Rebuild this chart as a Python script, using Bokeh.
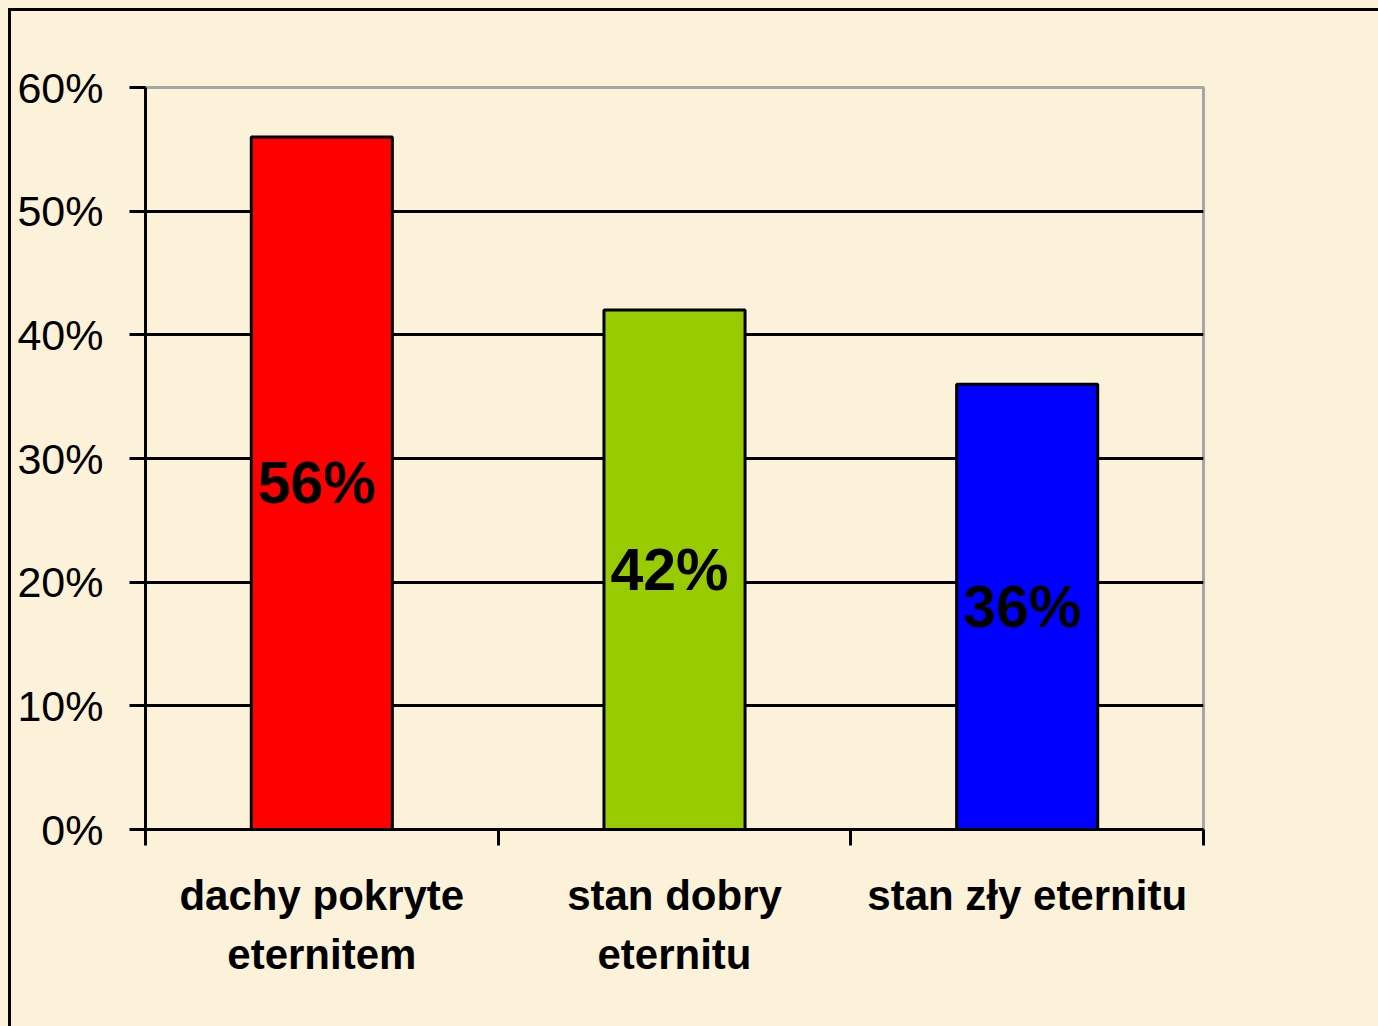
from bokeh.plotting import figure
from bokeh.models import (Range1d, LinearAxis, FixedTicker,
                          PrintfTickFormatter, ColumnDataSource)
from bokeh.core.properties import value
from bokeh.embed import file_html
from bokeh.resources import INLINE

categories = ["dachy pokryte\neternitem", "stan dobry\neternitu", "stan zły eternitu"]
values = [56, 42, 36]
value_labels = ["56%", "42%", "36%"]
bar_colors = ["#FF0000", "#99CC00", "#0000FF"]
y_ticks = [0, 10, 20, 30, 40, 50, 60]
grid_ticks = [10, 20, 30, 40, 50]

BG = "#FCF1D9"
FONT = "Liberation Sans"

n = len(categories)
centers = [i + 0.5 for i in range(n)]
bounds = list(range(n + 1))

p = figure(x_range=Range1d(0, n), y_range=Range1d(0, 60),
           frame_width=1058, frame_height=742,
           min_border_left=145, min_border_top=87, min_border_right=175, min_border_bottom=197,
           output_backend="svg", toolbar_location=None, x_axis_location=None)

p.background_fill_color = BG
p.border_fill_color = None
p.styles = {"background-color": BG,
            "box-shadow": "inset 8px 8px 0 0 " + BG + ", inset 11px 11px 0 0 #000000"}
p.outline_line_color = "#A6A6A6"
p.outline_line_width = 3

# y axis
ya = p.yaxis[0]
ya.ticker = FixedTicker(ticks=y_ticks)
ya.formatter = PrintfTickFormatter(format="%d%%")
ya.axis_line_color = "black"
ya.axis_line_width = 3
ya.major_tick_line_color = "black"
ya.major_tick_line_width = 3
ya.major_tick_in = 0
ya.major_tick_out = 16
ya.minor_tick_line_color = None
ya.major_label_standoff = 26
ya.major_label_text_font = FONT
ya.major_label_text_font_size = "43px"
ya.major_label_text_color = "black"

# grid
p.xgrid.visible = False
p.ygrid.ticker = FixedTicker(ticks=grid_ticks)
p.ygrid.grid_line_color = "black"
p.ygrid.grid_line_width = 3

# x axes: ticks at category boundaries, labels at centres
tick_axis = LinearAxis(ticker=FixedTicker(ticks=bounds),
                       axis_line_color="black", axis_line_width=3,
                       major_tick_line_color="black", major_tick_line_width=3,
                       major_tick_in=0, major_tick_out=16,
                       minor_tick_line_color=None,
                       major_label_text_font_size="1px", major_label_text_alpha=0,
                       major_label_standoff=0)
label_axis = LinearAxis(ticker=FixedTicker(ticks=centers),
                        major_label_overrides=dict(zip(centers, categories)),
                        axis_line_color=None, major_tick_line_color=None,
                        minor_tick_line_color=None,
                        major_label_text_font=FONT,
                        major_label_text_font_style="bold",
                        major_label_text_font_size="42px",
                        major_label_text_color="black",
                        major_label_text_line_height=1.27,
                        major_label_standoff=20)
p.add_layout(tick_axis, "below")
p.add_layout(label_axis, "below")

src = ColumnDataSource(dict(x=centers, val=values, color=bar_colors,
                            label=value_labels, mid=[v / 2 for v in values]))

p.vbar(x="x", top="val", width=0.4, fill_color="color", line_color="black",
       line_width=3, source=src)

p.text(x="x", y="mid", text="label", source=src, text_font=value(FONT),
       text_font_style="bold", text_font_size="59px", text_color="black",
       text_align="center", text_baseline="middle", x_offset=-5)

open("out.html", "w").write(file_html(p, INLINE))
